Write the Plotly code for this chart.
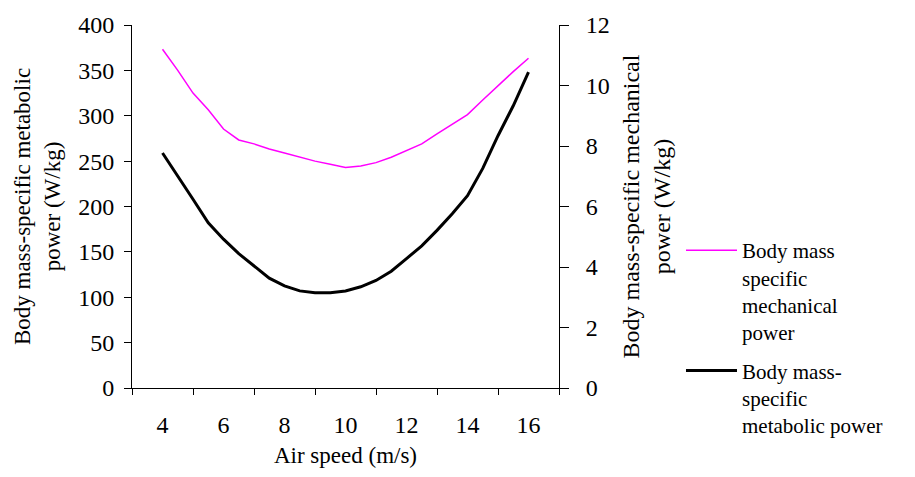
import plotly.graph_objects as go

air_speed = [4, 4.5, 5, 5.5, 6, 6.5, 7, 7.5, 8, 8.5, 9, 9.5, 10, 10.5, 11, 11.5, 12, 12.5, 13, 13.5, 14, 14.5, 15, 15.5, 16]
mechanical = [11.2, 10.5, 9.75, 9.2, 8.56, 8.2, 8.07, 7.9, 7.77, 7.63, 7.5, 7.4, 7.29, 7.34, 7.45, 7.63, 7.85, 8.07, 8.4, 8.72, 9.04, 9.52, 10.0, 10.46, 10.9]
metabolic = [259, 234, 208, 182, 164, 148, 134, 121, 112.6, 107, 105, 105, 107, 111.5, 118.5, 128.7, 142.6, 156.6, 173.7, 192, 212, 242, 278, 311, 348]

x_ticks = [4, 6, 8, 10, 12, 14, 16]
x_minor = [3, 5, 7, 9, 11, 13, 15, 17]
left_ticks = [0, 50, 100, 150, 200, 250, 300, 350, 400]
right_ticks = [0, 2, 4, 6, 8, 10, 12]

FONT = "Liberation Serif"

fig = go.Figure()
fig.add_trace(go.Scatter(x=air_speed, y=mechanical, mode="lines", yaxis="y2",
                         name="Body mass<br>specific<br>mechanical<br>power",
                         line=dict(color="#ff00ff", width=1.5), legendgroup="a"))
fig.add_trace(go.Scatter(x=air_speed, y=metabolic, mode="lines", yaxis="y",
                         name="Body mass-<br>specific<br>metabolic power",
                         line=dict(color="#000000", width=3), legendgroup="b"))

fig.update_layout(
    width=915, height=477,
    margin=dict(l=132, r=356, t=15, b=89),
    paper_bgcolor="white", plot_bgcolor="white",
    font=dict(family=FONT, size=23, color="black"),
    showlegend=True,
    legend=dict(x=1.2857, y=0.435, xanchor="left", yanchor="top", valign="top",
                font=dict(family=FONT, size=21), tracegroupgap=8, itemwidth=51,
                traceorder="grouped", bgcolor="rgba(0,0,0,0)"),
    xaxis=dict(range=[3, 17], tickmode="array", tickvals=x_ticks, ticks="",
               showline=True, linecolor="black", linewidth=1, showgrid=False, zeroline=False,
               tickfont=dict(size=24), ticklabelstandoff=15,
               minor=dict(tickmode="array", tickvals=x_minor, ticks="outside", ticklen=6,
                          tickcolor="black", showgrid=False),
               title=dict(text="Air speed (m/s)", font=dict(size=23), standoff=10)),
    yaxis=dict(range=[0, 400], tickmode="array", tickvals=left_ticks, ticks="outside",
               ticklen=7, tickcolor="black", showline=True, linecolor="black", linewidth=1,
               showgrid=False, zeroline=False, tickfont=dict(size=24), ticklabelstandoff=5,
               title=dict(text="Body mass-specific metabolic<br>power (W/kg)", font=dict(size=23), standoff=11)),
    yaxis2=dict(range=[0, 12], overlaying="y", side="right", tickmode="array", tickvals=right_ticks,
                ticks="outside", ticklen=9, tickcolor="black", showline=True, linecolor="black",
                linewidth=1, showgrid=False, zeroline=False, tickfont=dict(size=24), ticklabelstandoff=12,
                title=dict(text="Body mass-specific mechanical<br>power (W/kg)", font=dict(size=24), standoff=13)),
    yaxis3=dict(range=[0, 12], overlaying="y", side="right", anchor="x", tickmode="array",
                tickvals=right_ticks, ticks="inside", ticklen=9, tickcolor="black", showticklabels=False,
                showline=False, showgrid=False, zeroline=False),
)

fig.write_html("out.html")
